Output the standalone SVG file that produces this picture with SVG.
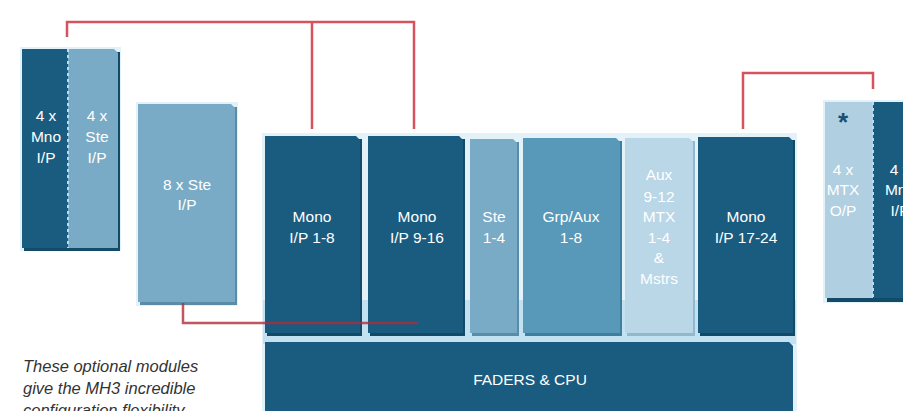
<svg xmlns="http://www.w3.org/2000/svg" width="903" height="411" viewBox="0 0 903 411">
<style>
.halo{fill:#e3f1f8}
.gap{fill:#c2e2f2}
.dk{fill:#1a5c7f}
.dkS{fill:#124a67}
.md{fill:#79abc6}
.mdS{fill:#5a8ca8}
.gp{fill:#5898b8}
.gpS{fill:#3e7e9e}
.pl{fill:#b9d7e7}
.plS{fill:#93b8cb}
.mx{fill:#b0cfe0}
.lbl{font-family:"Liberation Sans",Arial,sans-serif;font-size:15.5px;fill:#ffffff;text-anchor:middle}
.red{stroke:#d4535d;stroke-width:2.5;fill:none}
.red2{stroke:#b02c3a;stroke-width:2.5;fill:none;stroke-opacity:0.8}
.div{stroke:#b5dcef;stroke-width:2;stroke-dasharray:3 3;fill:none}
.note{font-family:"Liberation Sans",Arial,sans-serif;font-size:16.5px;font-style:italic;fill:#333333}
</style>

<rect width="903" height="411" fill="#ffffff"/>

<!-- soft glow behind console -->
<rect x="262" y="133" width="535" height="278" class="halo"/>
<rect x="263" y="300" width="533" height="44" class="gap"/>

<!-- left optional module -->
<g id="mod-left">
  <rect x="20" y="47" width="101" height="204" class="halo"/>
  <path class="dkS" d="M24,52 H120 V251 H24 Z"/>
  <path class="dk" d="M22,49 H68 V248 H22 Z"/>
  <path class="md" d="M68,49 H114 L118,53 V248 H68 Z"/>
  <line x1="68" y1="49" x2="68" y2="248" class="div"/>
  <text class="lbl" x="46" y="121">4 x</text>
  <text class="lbl" x="46" y="142">Mno</text>
  <text class="lbl" x="46" y="163">I/P</text>
  <text class="lbl" x="97" y="121">4 x</text>
  <text class="lbl" x="97" y="142">Ste</text>
  <text class="lbl" x="97" y="163">I/P</text>
</g>

<g id="mod-8ste">
  <rect x="136" y="102" width="102" height="204" class="halo"/>
  <path class="mdS" d="M140,107 H237 V305 H140 Z"/>
  <path class="md" d="M138,104 H231 L235,108 V302 H138 Z"/>
  <text class="lbl" x="187" y="190">8 x Ste</text>
  <text class="lbl" x="187" y="210">I/P</text>
</g>

<g id="mono-1-8">
  <path class="dkS" d="M267,139 H362 V336 H267 Z"/>
  <path class="dk" d="M265,136 H356 L360,140 V333 H265 Z"/>
  <text class="lbl" x="312" y="222">Mono</text>
  <text class="lbl" x="312" y="243">I/P 1-8</text>
</g>

<g id="mono-9-16">
  <path class="dkS" d="M370,139 H465 V336 H370 Z"/>
  <path class="dk" d="M368,136 H459 L463,140 V333 H368 Z"/>
  <text class="lbl" x="417" y="222">Mono</text>
  <text class="lbl" x="417" y="243">I/P 9-16</text>
</g>

<g id="ste-1-4">
  <path class="mdS" d="M472,142 H519 V336 H472 Z"/>
  <path class="md" d="M470,139 H513 L517,143 V333 H470 Z"/>
  <text class="lbl" x="494" y="222">Ste</text>
  <text class="lbl" x="494" y="243">1-4</text>
</g>

<g id="grp-aux">
  <path class="gpS" d="M525,141 H622 V336 H525 Z"/>
  <path class="gp" d="M523,138 H616 L620,142 V333 H523 Z"/>
  <text class="lbl" x="571" y="222">Grp/Aux</text>
  <text class="lbl" x="571" y="243">1-8</text>
</g>

<g id="aux-mtx">
  <path class="plS" d="M627,141 H695 V336 H627 Z"/>
  <path class="pl" d="M625,138 H689 L693,142 V333 H625 Z"/>
  <text class="lbl" x="659" y="180">Aux</text>
  <text class="lbl" x="659" y="202">9-12</text>
  <text class="lbl" x="659" y="222">MTX</text>
  <text class="lbl" x="659" y="243">1-4</text>
  <text class="lbl" x="659" y="263">&amp;</text>
  <text class="lbl" x="659" y="284">Mstrs</text>
</g>

<g id="mono-17-24">
  <path class="dkS" d="M700,140 H795 V336 H700 Z"/>
  <path class="dk" d="M698,137 H789 L793,141 V333 H698 Z"/>
  <text class="lbl" x="746" y="222">Mono</text>
  <text class="lbl" x="746" y="243">I/P 17-24</text>
</g>

<g id="faders-cpu">
  <path class="dk" d="M265,342 H789 L793,346 V411 H265 Z"/>
  <text class="lbl" x="530" y="385">FADERS &amp; CPU</text>
</g>

<!-- right optional module -->
<g id="mod-right">
  <rect x="823" y="100" width="80" height="203" class="halo"/>
  <path class="dkS" d="M827,105 H903 V302 H827 Z"/>
  <path class="mx" d="M825,102 H873 V298 H825 Z"/>
  <path class="dk" d="M873,102 H903 V298 H873 Z"/>
  <line x1="873" y1="102" x2="873" y2="298" class="div"/>
  <text x="843" y="131" font-family="Liberation Sans,Arial,sans-serif" font-size="26" font-weight="bold" fill="#1a4f72" text-anchor="middle">*</text>
  <text class="lbl" x="843" y="175">4 x</text>
  <text class="lbl" x="843" y="195">MTX</text>
  <text class="lbl" x="843" y="216">O/P</text>
  <text class="lbl" x="900" y="175">4 x</text>
  <text class="lbl" x="900" y="195">Mno</text>
  <text class="lbl" x="900" y="216">I/P</text>
</g>

<!-- connectors -->
<g id="connectors">
  <path class="red" d="M67,37 V22 H414 V129"/>
  <path class="red" d="M312,22 V129"/>
  <path class="red" d="M743,129 V73 H873 V89"/>
  <path class="red2" d="M183,303 V323 H418"/>
</g>

<g id="note">
  <text class="note" x="23" y="372">These optional modules</text>
  <text class="note" x="23" y="394">give the MH3 incredible</text>
  <text class="note" x="23" y="416">configuration flexibility</text>
</g>
</svg>
